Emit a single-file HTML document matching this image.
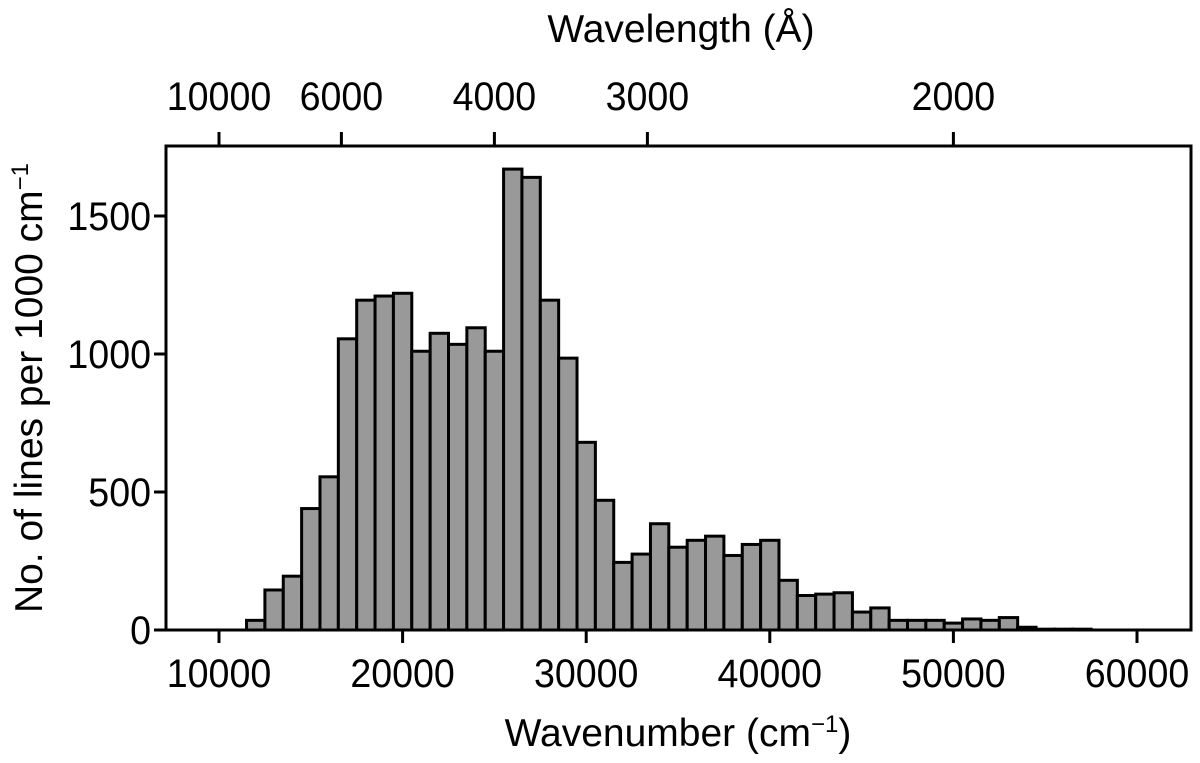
<!DOCTYPE html>
<html><head><meta charset="utf-8"><style>
html,body{margin:0;padding:0;background:#fff;}
svg text{font-family:"Liberation Sans",Arial,sans-serif;fill:#000;}
</style></head><body>
<svg id="chart" width="1200" height="758" viewBox="0 0 1200 758" xmlns="http://www.w3.org/2000/svg"></svg>
<script>
const binCenters=[12000,13000,14000,15000,16000,17000,18000,19000,20000,21000,22000,23000,24000,25000,26000,27000,28000,29000,30000,31000,32000,33000,34000,35000,36000,37000,38000,39000,40000,41000,42000,43000,44000,45000,46000,47000,48000,49000,50000,51000,52000,53000,54000,55000,56000,57000];
const counts=[35,145,195,440,555,1055,1195,1210,1220,1010,1075,1035,1095,1010,1670,1640,1195,985,680,470,245,275,385,300,325,340,270,310,325,180,125,130,135,65,80,35,35,35,25,40,35,45,10,3,3,3];
const xTicks=[10000,20000,30000,40000,50000,60000];
const yTicks=[0,500,1000,1500];
const wlTicks=[10000,6000,4000,3000,2000];
const NS='http://www.w3.org/2000/svg';
const svg=document.getElementById('chart');
const L=166,R=1191,T=146,B=630;
const FS=40, SX=0.94, TFS=39;
const x=v=>219+(v-10000)*918/50000;
const y=v=>630-v*0.276;
function mk(tag,a,parent){const e=document.createElementNS(NS,tag);for(const k in a)e.setAttribute(k,a[k]);(parent||svg).appendChild(e);return e;}
const bars=mk('g',{});


binCenters.forEach((c,i)=>{
  const r=mk('rect',{x:x(c-500),y:y(counts[i]),width:x(c+500)-x(c-500),height:y(0)-y(counts[i]),fill:'#999',stroke:'#000','stroke-width':3},bars);
  
  
});
const frame=mk('rect',{x:L,y:T,width:R-L,height:B-T,fill:'none',stroke:'#000','stroke-width':3});


xTicks.forEach(t=>{
  mk('line',{x1:x(t),x2:x(t),y1:B,y2:B+13,stroke:'#000','stroke-width':3});
  const tx=mk('text',{x:x(t),y:B+57,'text-anchor':'middle','font-size':FS,transform:`translate(${x(t)},0) scale(${SX},1) translate(${-x(t)},0)`});tx.textContent=t;
  
  
});
yTicks.forEach(t=>{
  mk('line',{x1:L-12,x2:L,y1:y(t),y2:y(t),stroke:'#000','stroke-width':3});
  const tx=mk('text',{x:L-15,y:y(t)+14,'text-anchor':'end','font-size':FS,transform:`translate(${L-15},0) scale(${SX},1) translate(${-(L-15)},0)`});tx.textContent=t;
  
  
});
wlTicks.forEach(t=>{
  const xv=x(1e8/t);
  mk('line',{x1:xv,x2:xv,y1:T-14,y2:T,stroke:'#000','stroke-width':3});
  const tx=mk('text',{x:xv,y:T-36,'text-anchor':'middle','font-size':FS,transform:`translate(${xv},0) scale(${SX},1) translate(${-xv},0)`});tx.textContent=t;
  
  
});
let t1=mk('text',{x:678,y:746,'text-anchor':'middle','font-size':TFS});
t1.innerHTML='Wavenumber (cm<tspan dy="-14" font-size="24">\u22121</tspan><tspan dy="14">)</tspan>';


let t2=mk('text',{x:681,y:42,'text-anchor':'middle','font-size':TFS});
t2.textContent='Wavelength (\u00C5)';


let t3=mk('text',{x:0,y:0,'text-anchor':'middle','font-size':TFS,transform:'translate(42,388) rotate(-90)'});
t3.innerHTML='No. of lines per 1000 cm<tspan dy="-14" font-size="24">\u22121</tspan>';


</script>
</body></html>
